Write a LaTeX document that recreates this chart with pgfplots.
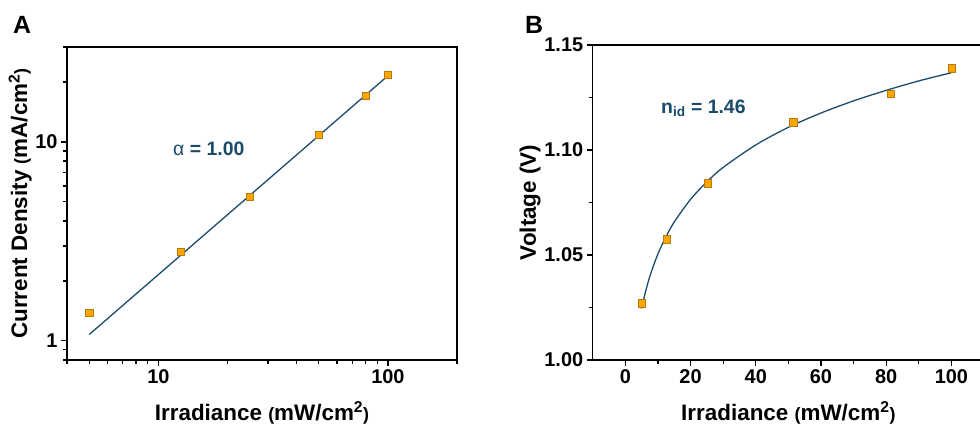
\documentclass[border=0pt]{standalone}
\usepackage{fontspec}
\setmainfont{Liberation Sans}
\usepackage{pgfplots}
\pgfplotsset{compat=1.18}
\definecolor{fitblue}{HTML}{1B4B6B}
\definecolor{mkorange}{HTML}{FFA500}
\definecolor{mkedge}{HTML}{B47A12}
\pgfplotsset{mystyle/.style={
  scale only axis, anchor=south west,
  axis line style={line width=1.5pt},
  every tick/.style={black, line width=1.3pt},
  major tick length=6bp, minor tick length=4bp,
  tick align=outside, tick pos=left,
  ticklabel style={font=\bfseries\fontsize{20}{20}\selectfont},
  label style={font=\bfseries\fontsize{22.5}{26}\selectfont},
  /pgf/number format/assume math mode=true,
  clip=false,
}}
\newcommand{\unitlab}[1]{{\fontsize{18}{20}\selectfont(}#1/cm\textsuperscript{2}{\fontsize{18}{20}\selectfont)}}
\begin{document}
\begin{tikzpicture}[x=1bp,y=1bp]
\useasboundingbox (0,0) rectangle (980,429);
\begin{loglogaxis}[mystyle, at={(67bp,69bp)}, width=390bp, height=313bp,
  xmin=4, xmax=200, ymin=0.8, ymax=30,
  xtick={10,100}, xticklabels={10,100},
  ytick={1,10}, yticklabels={1,10},
  minor xtick={4,5,6,7,8,9,20,30,40,50,60,70,80,90,200},
  minor ytick={0.8,0.9,2,3,4,5,6,7,8,9,20,30},
  xlabel={Irradiance \unitlab{mW}},
  ylabel={Current Density \unitlab{mA}},
  xlabel style={at={(axis description cs:0.5,-0.169)}, anchor=center},
  ylabel style={at={(axis description cs:-0.120,0.5)}, anchor=center},
]
\addplot[fitblue, line width=1.3pt] coordinates {(5,1.075) (100,21.5)};
\addplot[only marks, mark=square*, mark size=3.6bp, mark options={fill=mkorange, draw=mkedge, line width=0.6pt}]
  coordinates {(5,1.38) (12.5,2.81) (25,5.28) (50,10.9) (80,17.0) (100,21.7)};
\end{loglogaxis}
\begin{axis}[mystyle, at={(592.7bp,69bp)}, width=391.3bp, height=315bp,
  xmin=-10, xmax=110, ymin=1.0, ymax=1.15,
  xtick={0,20,40,60,80,100}, minor xtick={10,30,50,70,90},
  ytick={1.00,1.05,1.10,1.15}, minor ytick={1.025,1.075,1.125},
  yticklabel style={/pgf/number format/.cd, fixed, fixed zerofill, precision=2},
  scaled y ticks=false,
  xlabel={Irradiance \unitlab{mW}},
  ylabel={Voltage (V)},
  xlabel style={at={(axis description cs:0.5,-0.168)}, anchor=center},
  ylabel style={at={(axis description cs:-0.160,0.5)}, anchor=center},
]
\addplot[fitblue, line width=1.3pt, smooth] coordinates {
(5,1.0245) (6,1.0313) (7,1.0371) (8,1.0421) (10,1.0505) (12.5,1.0588) (15,1.0657)
(20,1.0765) (25,1.0848) (30,1.0917) (40,1.1024) (50,1.1108) (60,1.1176)
(70,1.1234) (80,1.1284) (90,1.1329) (100,1.1368)};
\addplot[only marks, mark=square*, mark size=3.6bp, mark options={fill=mkorange, draw=mkedge, line width=0.6pt}]
  coordinates {(5.1,1.0270) (12.8,1.0575) (25.2,1.0841) (51.5,1.1132) (81.4,1.1267) (100,1.1389)};
\end{axis}
\node[font=\bfseries\fontsize{25}{25}\selectfont] at (22,404) {A};
\node[font=\bfseries\fontsize{25}{25}\selectfont] at (534,404) {B};
\node[anchor=base west, text=fitblue, font=\bfseries\fontsize{19.5}{19.5}\selectfont, inner sep=0pt] at (173,274) {{\mdseries α} = 1.00};
\node[anchor=base west, text=fitblue, font=\bfseries\fontsize{19.5}{19.5}\selectfont, inner sep=0pt] at (661,316) {n\textsubscript{id} = 1.46};
\end{tikzpicture}
\end{document}
